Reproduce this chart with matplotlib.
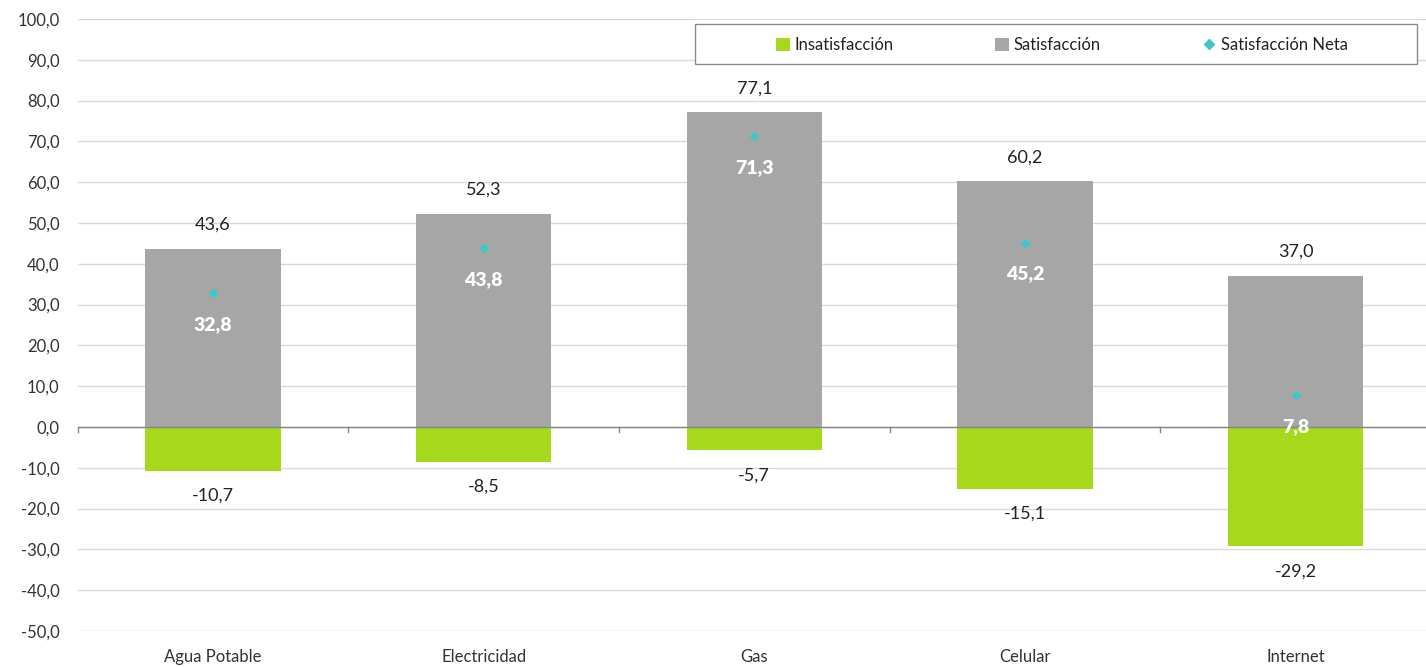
import matplotlib.pyplot as plt
from matplotlib.lines import Line2D
from matplotlib.patches import Patch, Rectangle

categorias = ["Agua Potable", "Electricidad", "Gas", "Celular", "Internet"]
satisfaccion = [43.6, 52.3, 77.1, 60.2, 37.0]
insatisfaccion = [-10.7, -8.5, -5.7, -15.1, -29.2]
neta = [32.8, 43.8, 71.3, 45.2, 7.8]
y_ticks = [100, 90, 80, 70, 60, 50, 40, 30, 20, 10, 0, -10, -20, -30, -40, -50]

VERDE = "#a6d91b"
GRIS = "#a6a6a6"
CIAN = "#3cc8c8"


def fmt(v):
    return f"{v:.1f}".replace(".", ",")


plt.rcParams["font.family"] = ["Lato", "DejaVu Sans"]

W, H = 1426, 667
fig = plt.figure(figsize=(W / 100, H / 100), dpi=100)
# plot area in pixels: x 77.6 .. 1431, y 19 (100) .. 631 (-50)
ax = fig.add_axes([77.6 / W, (H - 631) / H, (1431 - 77.6) / W, (631 - 19) / H])

x = list(range(len(categorias)))
ax.bar(x, satisfaccion, width=0.5, color=GRIS, zorder=2)
ax.bar(x, insatisfaccion, width=0.5, color=VERDE, zorder=2)
ax.scatter(x, neta, marker="D", s=24, color=CIAN, zorder=4, linewidths=0)

px = 150 / 612  # data units per pixel
for i in x:
    ax.text(i, satisfaccion[i] + 24 * px, fmt(satisfaccion[i]), ha="center", va="center",
            fontsize=13, color="#222222")
    ax.text(i, insatisfaccion[i] - 25 * px, fmt(insatisfaccion[i]), ha="center", va="center",
            fontsize=13, color="#222222")
    ax.text(i, neta[i] - 31 * px, fmt(neta[i]), ha="center", va="center",
            fontsize=14, color="white", fontweight="heavy", zorder=5)

ax.set_xlim(-0.5, len(categorias) - 0.5)
ax.set_ylim(-50, 100)
ax.set_yticks(y_ticks)
ax.set_yticklabels([fmt(v) for v in y_ticks])
ax.set_xticks(x)
ax.set_xticklabels(categorias)
ax.tick_params(axis="both", length=0, labelsize=12, colors="#333333")
ax.tick_params(axis="x", pad=13)
ax.tick_params(axis="y", pad=13)

ax.grid(axis="y", color="#d9d9d9", linewidth=1, zorder=0)
ax.axhline(0, color="#868686", linewidth=1, zorder=3)
for b in [i - 0.5 for i in x] + [len(categorias) - 0.5]:
    ax.plot([b, b], [0, -5 * px], color="#868686", linewidth=1, zorder=3, clip_on=False)
for s in ax.spines.values():
    s.set_visible(False)

# legend box (Excel style, spans more than its entries)
fig.patches.append(Rectangle((695 / W, (H - 64) / H), (1417 - 695) / W, 40 / H,
                             transform=fig.transFigure, facecolor="white",
                             edgecolor="#8c8c8c", linewidth=1, zorder=5))
handles = [
    Patch(facecolor=VERDE, edgecolor="none"),
    Patch(facecolor=GRIS, edgecolor="none"),
    Line2D([], [], marker="D", color=CIAN, linestyle="none", markersize=5),
]
leg = fig.legend(handles, ["Insatisfacción", "Satisfacción", "Satisfacción Neta"],
                 ncol=3, loc="center", bbox_to_anchor=(1062 / W, (H - 45) / H),
                 bbox_transform=fig.transFigure, fontsize=12, frameon=False,
                 handlelength=0.8, handleheight=0.8, handletextpad=0.3,
                 columnspacing=6.1, borderaxespad=0)
leg.set_zorder(6)
for t in leg.get_texts():
    t.set_color("#222222")

fig.savefig("out.png", dpi=100)
